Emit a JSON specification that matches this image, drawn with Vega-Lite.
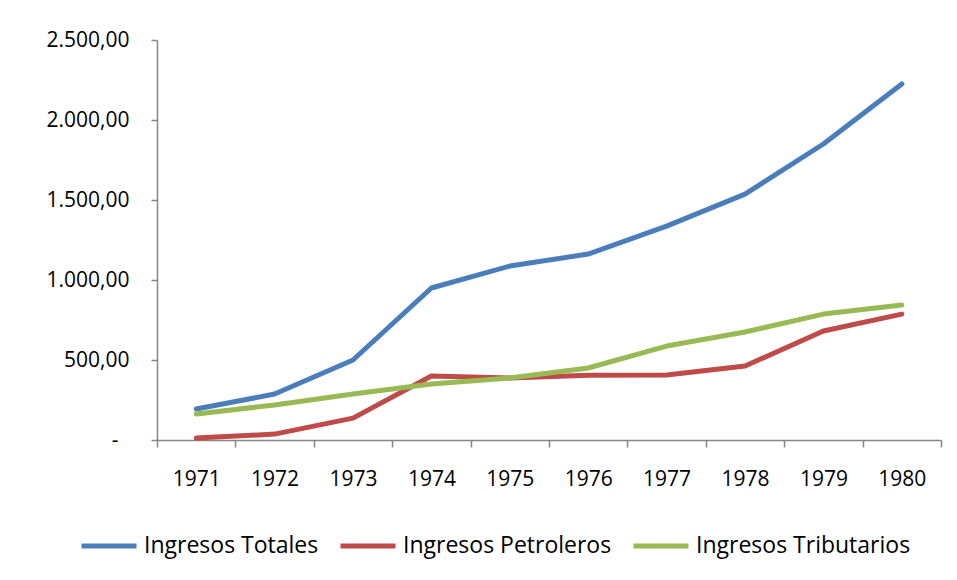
{
  "$schema": "https://vega.github.io/schema/vega-lite/v6.json",
  "autosize": "none",
  "width": 784,
  "height": 400,
  "padding": {"left": 157, "top": 40, "right": 16, "bottom": 140},
  "background": "white",
  "data": {
    "values": [
      {"year": 1971, "serie": "Ingresos Totales", "valor": 194},
      {"year": 1972, "serie": "Ingresos Totales", "valor": 287},
      {"year": 1973, "serie": "Ingresos Totales", "valor": 500},
      {"year": 1974, "serie": "Ingresos Totales", "valor": 950},
      {"year": 1975, "serie": "Ingresos Totales", "valor": 1087},
      {"year": 1976, "serie": "Ingresos Totales", "valor": 1162},
      {"year": 1977, "serie": "Ingresos Totales", "valor": 1337},
      {"year": 1978, "serie": "Ingresos Totales", "valor": 1537},
      {"year": 1979, "serie": "Ingresos Totales", "valor": 1850},
      {"year": 1980, "serie": "Ingresos Totales", "valor": 2225},
      {"year": 1971, "serie": "Ingresos Petroleros", "valor": 12},
      {"year": 1972, "serie": "Ingresos Petroleros", "valor": 37},
      {"year": 1973, "serie": "Ingresos Petroleros", "valor": 137},
      {"year": 1974, "serie": "Ingresos Petroleros", "valor": 400},
      {"year": 1975, "serie": "Ingresos Petroleros", "valor": 387},
      {"year": 1976, "serie": "Ingresos Petroleros", "valor": 404},
      {"year": 1977, "serie": "Ingresos Petroleros", "valor": 406},
      {"year": 1978, "serie": "Ingresos Petroleros", "valor": 462},
      {"year": 1979, "serie": "Ingresos Petroleros", "valor": 681},
      {"year": 1980, "serie": "Ingresos Petroleros", "valor": 787},
      {"year": 1971, "serie": "Ingresos Tributarios", "valor": 162},
      {"year": 1972, "serie": "Ingresos Tributarios", "valor": 219},
      {"year": 1973, "serie": "Ingresos Tributarios", "valor": 287},
      {"year": 1974, "serie": "Ingresos Tributarios", "valor": 350},
      {"year": 1975, "serie": "Ingresos Tributarios", "valor": 387},
      {"year": 1976, "serie": "Ingresos Tributarios", "valor": 450},
      {"year": 1977, "serie": "Ingresos Tributarios", "valor": 587},
      {"year": 1978, "serie": "Ingresos Tributarios", "valor": 675},
      {"year": 1979, "serie": "Ingresos Tributarios", "valor": 787},
      {"year": 1980, "serie": "Ingresos Tributarios", "valor": 844}
    ]
  },
  "mark": {"type": "line", "strokeWidth": 5, "strokeCap": "round", "strokeJoin": "round"},
  "encoding": {
    "x": {
      "field": "year",
      "type": "quantitative",
      "scale": {"domain": [1970.5, 1980.5], "nice": false, "zero": false},
      "axis": {
        "title": null,
        "grid": false,
        "values": [1970.5, 1971, 1971.5, 1972, 1972.5, 1973, 1973.5, 1974, 1974.5, 1975, 1975.5, 1976, 1976.5, 1977, 1977.5, 1978, 1978.5, 1979, 1979.5, 1980, 1980.5],
        "labelExpr": "round(datum.value) == datum.value ? '' + datum.value : ''",
        "labelOverlap": false,
        "labelFlush": false,
        "labelFontSize": 21,
        "tickSize": 7,
        "tickOpacity": {"condition": {"test": "round(datum.value) != datum.value", "value": 1}, "value": 0},
        "labelPadding": 21
      }
    },
    "y": {
      "field": "valor",
      "type": "quantitative",
      "scale": {"domain": [0, 2500], "nice": false},
      "axis": {
        "title": null,
        "grid": false,
        "values": [0, 500, 1000, 1500, 2000, 2500],
        "labelExpr": "datum.value === 0 ? '-' : replace(replace(replace(format(datum.value, ',.2f'), ',', '#'), '.', ','), '#', '.')",
        "labelFontSize": 21,
        "tickSize": 6,
        "labelPadding": {"condition": {"test": "datum.value === 0", "value": 33}, "value": 22}
      }
    },
    "color": {
      "field": "serie",
      "type": "nominal",
      "sort": ["Ingresos Totales", "Ingresos Petroleros", "Ingresos Tributarios"],
      "scale": {
        "domain": ["Ingresos Totales", "Ingresos Petroleros", "Ingresos Tributarios"],
        "range": ["#4a7ebb", "#be4b48", "#98b954"]
      },
      "legend": {
        "title": null,
        "orient": "none",
        "direction": "horizontal",
        "legendX": -78,
        "legendY": 476,
        "symbolType": "stroke",
        "symbolSize": 3025,
        "symbolStrokeWidth": 5,
        "labelOffset": 5,
        "columnPadding": 11,
        "labelFontSize": 23,
        "labelFont": "Open Sans",
        "labelColor": "#000000",
        "labelLimit": 400
      }
    }
  },
  "config": {
    "view": {"stroke": null},
    "axis": {
      "domainColor": "#868686",
      "tickColor": "#868686",
      "domainWidth": 1.5,
      "tickWidth": 1.5,
      "labelFont": "Open Sans",
      "labelColor": "#000000"
    }
  }
}
